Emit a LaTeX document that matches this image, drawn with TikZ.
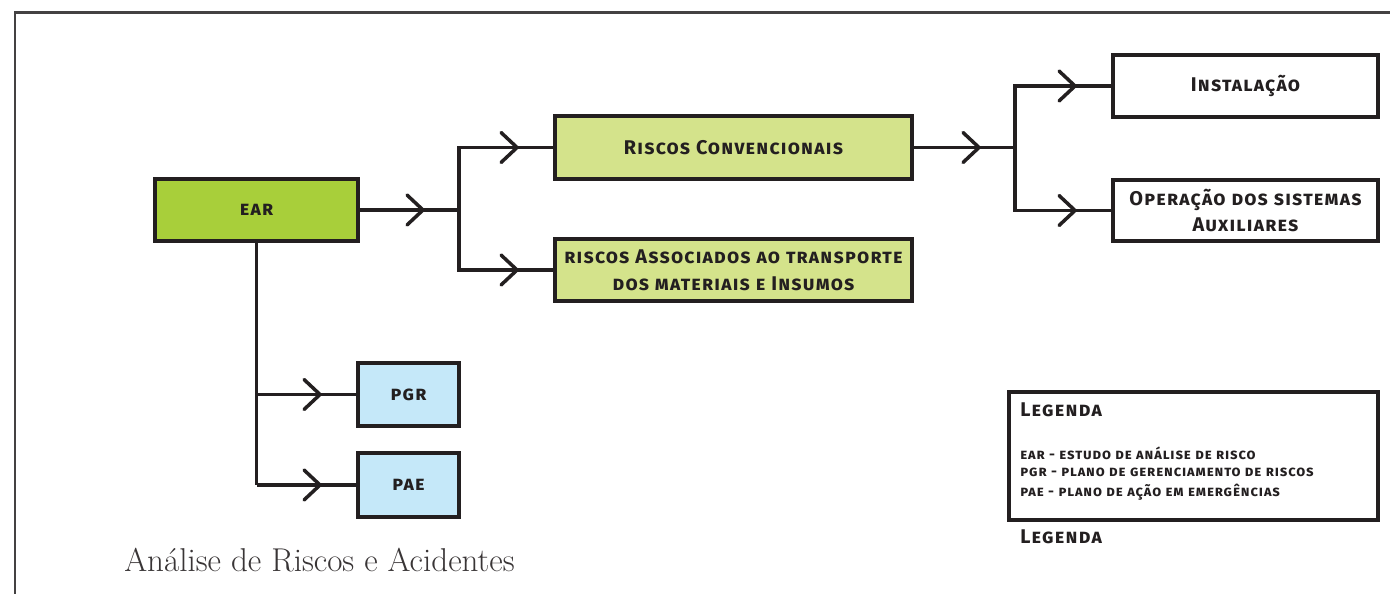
\documentclass[tikz,border=0pt]{standalone}
\usepackage{fontspec}
\usetikzlibrary{decorations.markings}
\newfontfamily\boxfont{Fira Sans}[LetterSpace=6]
\definecolor{ink}{HTML}{231F20}
\definecolor{eargreen}{HTML}{A8CF3A}
\definecolor{lightgreen}{HTML}{D4E38B}
\definecolor{lightblue}{HTML}{C5E8F9}
\begin{document}
\begin{tikzpicture}[x=0.02cm,y=-0.02cm,
  box/.style={draw=ink, line width=0.08cm, rectangle, inner sep=0pt, align=center,
    font=\boxfont\bfseries\scshape\fontsize{11.3pt}{15.3pt}\selectfont, text=ink},
  conn/.style={draw=ink, line width=0.07cm, postaction={decorate},
    decoration={markings, mark=at position -0.72cm with {\draw[ink, line width=0.07cm, line cap=round, line join=miter] (-0.32cm,0.3cm) -- (0,0) -- (-0.32cm,-0.3cm);}}},
  plain/.style={draw=ink, line width=0.07cm},
  legtxt/.style={anchor=west, inner sep=0pt, text=ink, font=\boxfont\bfseries\scshape\fontsize{8.3pt}{11pt}\selectfont},
  legtitle/.style={legtxt, font=\boxfont\bfseries\scshape\fontsize{11.3pt}{14pt}\selectfont}
]
\clip (0,0) rectangle (1390,594);
\fill[white] (0,0) rectangle (1390,594);
% outer frame
\draw[ink!85, line width=0.06cm] (15,600) -- (15,13) -- (1400,13);

% nodes
\node[box, fill=eargreen, minimum width=4.06cm, minimum height=1.24cm] (ear) at (256.5,210) {ear};
\node[box, fill=lightgreen, minimum width=7.14cm, minimum height=1.26cm] (rc) at (733.5,147.5) {Riscos Convencionais};
\node[box, fill=lightgreen, minimum width=7.14cm, minimum height=1.24cm] (ra) at (733.5,270) {riscos Associados ao transporte\\dos materiais e Insumos};
\node[box, fill=white, minimum width=5.3cm, minimum height=1.24cm] (inst) at (1245.5,86) {Instalação};
\node[box, fill=white, minimum width=5.3cm, minimum height=1.22cm] (op) at (1245.5,210.5) {Operação dos sistemas\\Auxiliares};
\node[box, fill=lightblue, minimum width=2.02cm, minimum height=1.26cm] (pgr) at (408.5,394.5) {pgr};
\node[box, fill=lightblue, minimum width=2.02cm, minimum height=1.28cm] (pae) at (408.5,485) {pae};

% junctions
\coordinate (j1) at (459,210);
\coordinate (j2) at (1015,147.5);

% connectors
\draw[conn] (ear.east) -- (j1);
\draw[conn] (j1) |- (rc.west);
\draw[conn] (j1) |- (ra.west);
\draw[conn] (rc.east) -- (j2);
\draw[conn] (j2) |- (inst.west);
\draw[conn] (j2) |- (op.west);
\draw[plain] (ear.south) -- (ear.south |- pae.west);
\draw[conn] (ear.south |- pgr.west) -- (pgr.west);
\draw[conn] (ear.south |- pae.west) -- (pae.west);

% legend
\node[draw=ink, line width=0.08cm, fill=white, minimum width=7.38cm, minimum height=2.56cm, inner sep=0pt] (leg) at (1193.5,456) {};
\node[legtitle] (legt) at (1020,410) {Legenda};
\node[legtxt] (l1) at (1020,453) {ear - estudo de análise de risco};
\node[legtxt] (l2) at (1020,472.5) {pgr - plano de gerenciamento de riscos};
\node[legtxt] (l3) at (1020,492) {pae - plano de ação em emergências};
\node[legtitle] (legb) at (1020,537) {Legenda};

% title
\node[anchor=west, inner sep=0pt, text=ink!90, font=\fontsize{18.8pt}{21pt}\selectfont] (title) at (124,560) {Análise de Riscos e Acidentes};
\end{tikzpicture}
\end{document}
